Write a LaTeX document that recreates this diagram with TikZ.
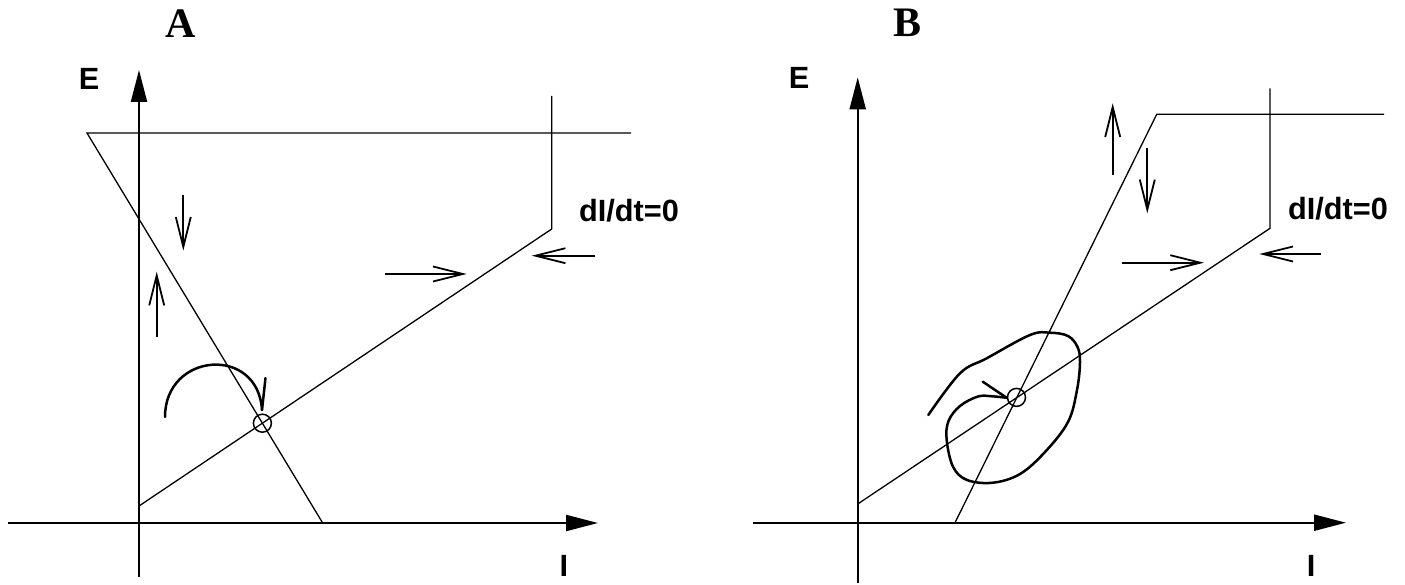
\documentclass[tikz,border=0pt]{standalone}
\usepackage{fontspec}
\setmainfont{Liberation Serif}
\newfontfamily\hv{Liberation Sans}
\usetikzlibrary{arrows.meta}
\begin{document}
\begin{tikzpicture}[x=1pt,y=-1pt,
  nline/.style={line width=1.3pt},
  axisline/.style={line width=2.2pt,-{Triangle[length=32pt,width=16pt]}},
  flow/.style={line width=1.8pt,-{Straight Barb[length=30pt,width=15pt]}},
  traj/.style={line width=2.5pt,line cap=round},
  fixpt/.style={circle,draw,line width=1.5pt,minimum size=18pt,inner sep=0pt},
  lbl/.style={font=\hv\bfseries\fontsize{30.7}{32}\selectfont,inner sep=0pt},
  panel/.style={font=\bfseries\fontsize{42}{44}\selectfont,inner sep=0pt}]
\useasboundingbox (0,0) rectangle (1405,585);

% ---------------- Panel A ----------------
\node[panel] (tA) at (181,24) {A};
\node[lbl] (eA) at (89,79) {E};
\node[lbl] (iA) at (564,566) {I};
\node[lbl] (dA) at (629,211) {dI/dt=0};

\coordinate (AyB) at (139,577);
\coordinate (AyT) at (139,70);
\coordinate (AxL) at (8,523);
\coordinate (AxR) at (598,523);
\draw[axisline] (AyB) -- (AyT);
\draw[axisline] (AxL) -- (AxR);

\coordinate (A1) at (631,133);
\coordinate (A2) at (87,133);
\coordinate (A3) at (322.7,523);
\coordinate (A4) at (551.7,96);
\coordinate (A5) at (551.7,229);
\coordinate (A6) at (139,506);
\draw[nline] (A1) -- (A2) -- (A3);
\draw[nline] (A4) -- (A5) -- (A6);
\node[fixpt] (fpA) at (262.4,423.2) {};

\coordinate (Aa1) at (183.3,195);   \coordinate (Aa2) at (183.3,250.7);
\coordinate (Ab1) at (156.7,336.7); \coordinate (Ab2) at (156.7,271.7);
\coordinate (Ac1) at (385,274);     \coordinate (Ac2) at (466.7,274);
\coordinate (Ad1) at (595,255.7);   \coordinate (Ad2) at (531.7,255.7);
\draw[flow] (Aa1) -- (Aa2);
\draw[flow] (Ab1) -- (Ab2);
\draw[flow] (Ac1) -- (Ac2);
\draw[flow] (Ad1) -- (Ad2);

\coordinate (As) at (165,417);
\coordinate (At) at (262,410);
\coordinate (Ab) at (265.5,378);
\draw[traj] (As) .. controls (165,352) and (258,345) .. (At);
\draw[traj] (At) -- (Ab);

% ---------------- Panel B ----------------
\node[panel] (tB) at (907,23) {B};
\node[lbl] (eB) at (799,78) {E};
\node[lbl] (iB) at (1311,566) {I};
\node[lbl] (dB) at (1338,208.5) {dI/dt=0};

\coordinate (ByB) at (857.7,583);
\coordinate (ByT) at (857.7,77.3);
\coordinate (BxL) at (753,522.7);
\coordinate (BxR) at (1346,522.7);
\draw[axisline] (ByB) -- (ByT);
\draw[axisline] (BxL) -- (BxR);

\coordinate (B1) at (1384,114.3);
\coordinate (B2) at (1156.7,114.3);
\coordinate (B3) at (955,522.7);
\coordinate (B4) at (1270,88.3);
\coordinate (B5) at (1270,228.3);
\coordinate (B6) at (857.7,504);
\draw[nline] (B1) -- (B2) -- (B3);
\draw[nline] (B4) -- (B5) -- (B6);
\node[fixpt] (fpB) at (1016.5,397.4) {};

\coordinate (Ba1) at (1112.7,175);   \coordinate (Ba2) at (1112.7,103.3);
\coordinate (Bb1) at (1147.3,148.3); \coordinate (Bb2) at (1147.3,213.3);
\coordinate (Bc1) at (1121.7,262.7); \coordinate (Bc2) at (1204,262.7);
\coordinate (Bd1) at (1321,254);     \coordinate (Bd2) at (1259.3,254);
\draw[flow] (Ba1) -- (Ba2);
\draw[flow] (Bb1) -- (Bb2);
\draw[flow] (Bc1) -- (Bc2);
\draw[flow] (Bd1) -- (Bd2);

\coordinate (Bt) at (1006.7,397.8);
\coordinate (Bbarb) at (982.7,381.7);
\draw[traj] plot[smooth,tension=0.6] coordinates {
  (928.3,415) (960,373.3) (986.7,358.3) (1030,335) (1050,332.7)
  (1068,336) (1077.5,347) (1080,362) (1077,390) (1068,422)
  (1045,452) (1020,474) (993,482.7) (967,480) (953,466.7)
  (946.7,440) (948.5,421) (960,406) (978,396.5) (992,396.3) (1006.7,397.8)};
\draw[traj] (Bt) -- (Bbarb);
\end{tikzpicture}
\end{document}
